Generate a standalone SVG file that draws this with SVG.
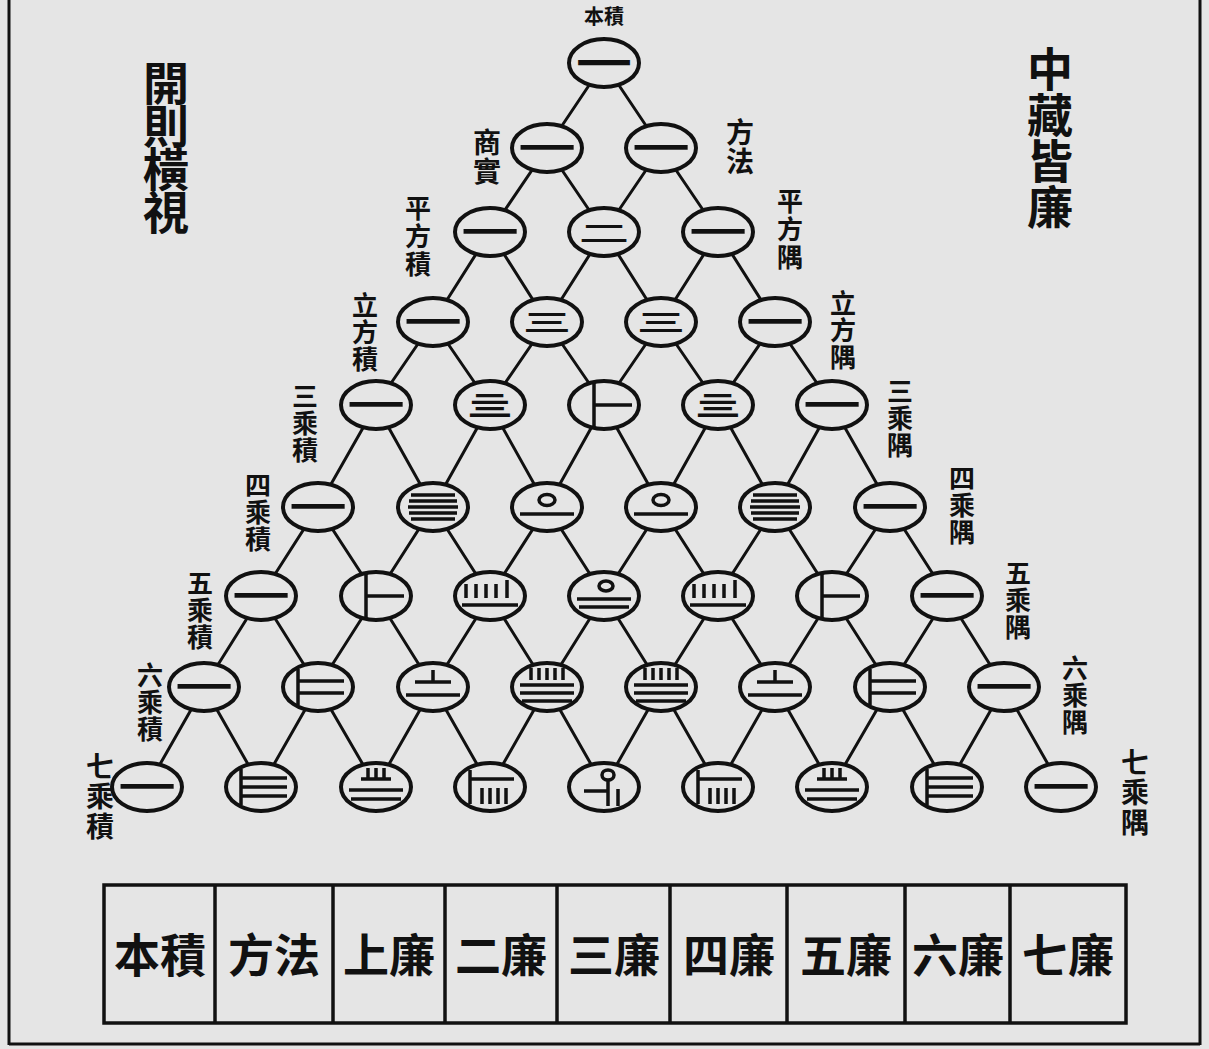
<svg xmlns="http://www.w3.org/2000/svg" width="1209" height="1049" viewBox="0 0 1209 1049">
<style>
.bg{fill:#e5e5e5}
.frame{stroke:#111;stroke-width:3;fill:none}
.conn line{stroke:#111;stroke-width:3;stroke-linecap:round}
.node ellipse.c{fill:#e5e5e5;stroke:#111;stroke-width:4}
.rod{stroke:#111;stroke-width:3.5;fill:none}
.num{font-family:'Noto Sans CJK SC','Noto Sans CJK TC',sans-serif;fill:#111;text-anchor:middle}
.nb{font-weight:700}
.lab{font-family:'Noto Sans CJK TC','Noto Sans CJK SC',sans-serif;font-weight:700;fill:#111;text-anchor:middle}
.vl{font-family:'Noto Sans CJK TC','Noto Sans CJK SC',sans-serif;font-weight:700;fill:#111;writing-mode:vertical-rl;text-anchor:start}
.box rect,.box line{stroke:#111;stroke-width:3.5;fill:none}
</style>
<defs>
<g id="r5" class="rod"><path d="M-22,-12H22M-24,-6H24M-25,0H25M-24,6H24M-22,12H22"/></g>
<g id="r6" class="rod"><path d="M-10,-23V23M-10,0H28"/></g>
<g id="r7" class="rod"><path d="M-20,-18V18M-20,-6H26M-20,6H26"/></g>
<g id="r8" class="rod"><path d="M-20,-18V18M-20,-9H26M-20,0H26M-20,9H26"/></g>
<g id="r10" class="rod"><ellipse cx="0" cy="-7" rx="8" ry="5.5"/><path d="M-27,7H27"/></g>
<g id="r15" class="rod"><path d="M-24,-12V2M-14,-12V2M-4,-12V2M6,-12V2M17,-16V2M-28,9H28"/></g>
<g id="r20" class="rod"><ellipse cx="2" cy="-10" rx="7" ry="5"/><path d="M-27,3H27M-25,11H25"/></g>
<g id="r21" class="rod"><path d="M0,-17V-5M-18,-5H18M-27,8H27"/></g>
<g id="r28" class="rod"><path d="M-8,-19V-8M0,-19V-8M8,-19V-8M-15,-8H15M-27,3H27M-25,12H25"/></g>
<g id="r35" class="rod"><path d="M-16,-19V-7M-8,-19V-7M0,-19V-7M8,-19V-7M16,-19V-7M-27,-2H27M-27,6H27M-25,14H25"/></g>
<g id="r56" class="rod"><path d="M-20,-17V17M-20,-8H24M-8,1V17M0,1V17M8,1V17M16,1V17"/></g>
<g id="r70" class="rod"><ellipse cx="4" cy="-12" rx="6" ry="5"/><path d="M4,-7V19M-20,4H4M14,2V19"/></g>
</defs>
<rect class="bg" x="0" y="0" width="1209" height="1049"/>
<g id="frame" class="frame">
<line x1="9" y1="0" x2="9" y2="1045"/>
<line x1="1200" y1="0" x2="1200" y2="1045"/>
<line x1="9" y1="1044" x2="1200" y2="1044"/>
</g>
<g id="connectors" class="conn">
<line x1="604" y1="63" x2="547" y2="148"/><line x1="604" y1="63" x2="661" y2="148"/>
<line x1="547" y1="148" x2="490" y2="232"/><line x1="547" y1="148" x2="604" y2="232"/>
<line x1="661" y1="148" x2="604" y2="232"/><line x1="661" y1="148" x2="718" y2="232"/>
<line x1="490" y1="232" x2="433" y2="322"/><line x1="490" y1="232" x2="547" y2="322"/>
<line x1="604" y1="232" x2="547" y2="322"/><line x1="604" y1="232" x2="661" y2="322"/>
<line x1="718" y1="232" x2="661" y2="322"/><line x1="718" y1="232" x2="775" y2="322"/>
<line x1="433" y1="322" x2="376" y2="405"/><line x1="433" y1="322" x2="490" y2="405"/>
<line x1="547" y1="322" x2="490" y2="405"/><line x1="547" y1="322" x2="604" y2="405"/>
<line x1="661" y1="322" x2="604" y2="405"/><line x1="661" y1="322" x2="718" y2="405"/>
<line x1="775" y1="322" x2="718" y2="405"/><line x1="775" y1="322" x2="832" y2="405"/>
<line x1="376" y1="405" x2="318" y2="507"/><line x1="376" y1="405" x2="433" y2="507"/>
<line x1="490" y1="405" x2="433" y2="507"/><line x1="490" y1="405" x2="547" y2="507"/>
<line x1="604" y1="405" x2="547" y2="507"/><line x1="604" y1="405" x2="661" y2="507"/>
<line x1="718" y1="405" x2="661" y2="507"/><line x1="718" y1="405" x2="775" y2="507"/>
<line x1="832" y1="405" x2="775" y2="507"/><line x1="832" y1="405" x2="890" y2="507"/>
<line x1="318" y1="507" x2="261" y2="596"/><line x1="318" y1="507" x2="376" y2="596"/>
<line x1="433" y1="507" x2="376" y2="596"/><line x1="433" y1="507" x2="490" y2="596"/>
<line x1="547" y1="507" x2="490" y2="596"/><line x1="547" y1="507" x2="604" y2="596"/>
<line x1="661" y1="507" x2="604" y2="596"/><line x1="661" y1="507" x2="718" y2="596"/>
<line x1="775" y1="507" x2="718" y2="596"/><line x1="775" y1="507" x2="832" y2="596"/>
<line x1="890" y1="507" x2="832" y2="596"/><line x1="890" y1="507" x2="947" y2="596"/>
<line x1="261" y1="596" x2="204" y2="687"/><line x1="261" y1="596" x2="318" y2="687"/>
<line x1="376" y1="596" x2="318" y2="687"/><line x1="376" y1="596" x2="433" y2="687"/>
<line x1="490" y1="596" x2="433" y2="687"/><line x1="490" y1="596" x2="547" y2="687"/>
<line x1="604" y1="596" x2="547" y2="687"/><line x1="604" y1="596" x2="661" y2="687"/>
<line x1="718" y1="596" x2="661" y2="687"/><line x1="718" y1="596" x2="775" y2="687"/>
<line x1="832" y1="596" x2="775" y2="687"/><line x1="832" y1="596" x2="890" y2="687"/>
<line x1="947" y1="596" x2="890" y2="687"/><line x1="947" y1="596" x2="1004" y2="687"/>
<line x1="204" y1="687" x2="147" y2="787"/><line x1="204" y1="687" x2="261" y2="787"/>
<line x1="318" y1="687" x2="261" y2="787"/><line x1="318" y1="687" x2="376" y2="787"/>
<line x1="433" y1="687" x2="376" y2="787"/><line x1="433" y1="687" x2="490" y2="787"/>
<line x1="547" y1="687" x2="490" y2="787"/><line x1="547" y1="687" x2="604" y2="787"/>
<line x1="661" y1="687" x2="604" y2="787"/><line x1="661" y1="687" x2="718" y2="787"/>
<line x1="775" y1="687" x2="718" y2="787"/><line x1="775" y1="687" x2="832" y2="787"/>
<line x1="890" y1="687" x2="832" y2="787"/><line x1="890" y1="687" x2="947" y2="787"/>
<line x1="1004" y1="687" x2="947" y2="787"/><line x1="1004" y1="687" x2="1061" y2="787"/>
</g>
<g id="nodes" class="node">
<g id="n0-0"><ellipse class="c" cx="604" cy="63" rx="35" ry="24"/><text class="num nb" transform="translate(604,63) scale(1.4,1)" x="0" y="15" font-size="40">一</text></g>
<g id="n1-0"><ellipse class="c" cx="547" cy="148" rx="35" ry="24"/><text class="num" x="547" y="170" font-size="58">一</text></g>
<g id="n1-1"><ellipse class="c" cx="661" cy="148" rx="35" ry="24"/><text class="num" x="661" y="170" font-size="58">一</text></g>
<g id="n2-0"><ellipse class="c" cx="490" cy="232" rx="35" ry="24"/><text class="num" x="490" y="254" font-size="58">一</text></g>
<g id="n2-1"><ellipse class="c" cx="604" cy="232" rx="35" ry="24"/><text class="num nb" transform="translate(604,232) scale(1,0.45)" x="0" y="19" font-size="50">二</text></g>
<g id="n2-2"><ellipse class="c" cx="718" cy="232" rx="35" ry="24"/><text class="num" x="718" y="254" font-size="58">一</text></g>
<g id="n3-0"><ellipse class="c" cx="433" cy="322" rx="35" ry="24"/><text class="num" x="433" y="344" font-size="58">一</text></g>
<g id="n3-1"><ellipse class="c" cx="547" cy="322" rx="35" ry="24"/><text class="num nb" transform="translate(547,322) scale(1,0.5)" x="0" y="18" font-size="48">三</text></g>
<g id="n3-2"><ellipse class="c" cx="661" cy="322" rx="35" ry="24"/><text class="num nb" transform="translate(661,322) scale(1,0.5)" x="0" y="18" font-size="48">三</text></g>
<g id="n3-3"><ellipse class="c" cx="775" cy="322" rx="35" ry="24"/><text class="num" x="775" y="344" font-size="58">一</text></g>
<g id="n4-0"><ellipse class="c" cx="376" cy="405" rx="35" ry="24"/><text class="num" x="376" y="427" font-size="58">一</text></g>
<g id="n4-1"><ellipse class="c" cx="490" cy="405" rx="35" ry="24"/><text class="num nb" transform="translate(490,405) scale(1,0.6)" x="0" y="18" font-size="46">亖</text></g>
<g id="n4-2"><ellipse class="c" cx="604" cy="405" rx="35" ry="24"/><use href="#r6" x="604" y="405"/></g>
<g id="n4-3"><ellipse class="c" cx="718" cy="405" rx="35" ry="24"/><text class="num nb" transform="translate(718,405) scale(1,0.6)" x="0" y="18" font-size="46">亖</text></g>
<g id="n4-4"><ellipse class="c" cx="832" cy="405" rx="35" ry="24"/><text class="num" x="832" y="427" font-size="58">一</text></g>
<g id="n5-0"><ellipse class="c" cx="318" cy="507" rx="35" ry="24"/><text class="num" x="318" y="529" font-size="58">一</text></g>
<g id="n5-1"><ellipse class="c" cx="433" cy="507" rx="35" ry="24"/><use href="#r5" x="433" y="507"/></g>
<g id="n5-2"><ellipse class="c" cx="547" cy="507" rx="35" ry="24"/><use href="#r10" x="547" y="507"/></g>
<g id="n5-3"><ellipse class="c" cx="661" cy="507" rx="35" ry="24"/><use href="#r10" x="661" y="507"/></g>
<g id="n5-4"><ellipse class="c" cx="775" cy="507" rx="35" ry="24"/><use href="#r5" x="775" y="507"/></g>
<g id="n5-5"><ellipse class="c" cx="890" cy="507" rx="35" ry="24"/><text class="num" x="890" y="529" font-size="58">一</text></g>
<g id="n6-0"><ellipse class="c" cx="261" cy="596" rx="35" ry="24"/><text class="num" x="261" y="618" font-size="58">一</text></g>
<g id="n6-1"><ellipse class="c" cx="376" cy="596" rx="35" ry="24"/><use href="#r6" x="376" y="596"/></g>
<g id="n6-2"><ellipse class="c" cx="490" cy="596" rx="35" ry="24"/><use href="#r15" x="490" y="596"/></g>
<g id="n6-3"><ellipse class="c" cx="604" cy="596" rx="35" ry="24"/><use href="#r20" x="604" y="596"/></g>
<g id="n6-4"><ellipse class="c" cx="718" cy="596" rx="35" ry="24"/><use href="#r15" x="718" y="596"/></g>
<g id="n6-5"><ellipse class="c" cx="832" cy="596" rx="35" ry="24"/><use href="#r6" x="832" y="596"/></g>
<g id="n6-6"><ellipse class="c" cx="947" cy="596" rx="35" ry="24"/><text class="num" x="947" y="618" font-size="58">一</text></g>
<g id="n7-0"><ellipse class="c" cx="204" cy="687" rx="35" ry="24"/><text class="num" x="204" y="709" font-size="58">一</text></g>
<g id="n7-1"><ellipse class="c" cx="318" cy="687" rx="35" ry="24"/><use href="#r7" x="318" y="687"/></g>
<g id="n7-2"><ellipse class="c" cx="433" cy="687" rx="35" ry="24"/><use href="#r21" x="433" y="687"/></g>
<g id="n7-3"><ellipse class="c" cx="547" cy="687" rx="35" ry="24"/><use href="#r35" x="547" y="687"/></g>
<g id="n7-4"><ellipse class="c" cx="661" cy="687" rx="35" ry="24"/><use href="#r35" x="661" y="687"/></g>
<g id="n7-5"><ellipse class="c" cx="775" cy="687" rx="35" ry="24"/><use href="#r21" x="775" y="687"/></g>
<g id="n7-6"><ellipse class="c" cx="890" cy="687" rx="35" ry="24"/><use href="#r7" x="890" y="687"/></g>
<g id="n7-7"><ellipse class="c" cx="1004" cy="687" rx="35" ry="24"/><text class="num" x="1004" y="709" font-size="58">一</text></g>
<g id="n8-0"><ellipse class="c" cx="147" cy="787" rx="35" ry="24"/><text class="num" x="147" y="809" font-size="58">一</text></g>
<g id="n8-1"><ellipse class="c" cx="261" cy="787" rx="35" ry="24"/><use href="#r8" x="261" y="787"/></g>
<g id="n8-2"><ellipse class="c" cx="376" cy="787" rx="35" ry="24"/><use href="#r28" x="376" y="787"/></g>
<g id="n8-3"><ellipse class="c" cx="490" cy="787" rx="35" ry="24"/><use href="#r56" x="490" y="787"/></g>
<g id="n8-4"><ellipse class="c" cx="604" cy="787" rx="35" ry="24"/><use href="#r70" x="604" y="787"/></g>
<g id="n8-5"><ellipse class="c" cx="718" cy="787" rx="35" ry="24"/><use href="#r56" x="718" y="787"/></g>
<g id="n8-6"><ellipse class="c" cx="832" cy="787" rx="35" ry="24"/><use href="#r28" x="832" y="787"/></g>
<g id="n8-7"><ellipse class="c" cx="947" cy="787" rx="35" ry="24"/><use href="#r8" x="947" y="787"/></g>
<g id="n8-8"><ellipse class="c" cx="1061" cy="787" rx="35" ry="24"/><text class="num" x="1061" y="809" font-size="58">一</text></g>
</g>
<g id="labels">
<text id="top-label" class="lab" x="604" y="24" font-size="20">本積</text>
<text id="note-left" class="vl" x="166" y="60" font-size="46" letter-spacing="-3">開則橫視</text>
<text id="note-right" class="vl" x="1050" y="46" font-size="46">中藏皆廉</text>
<text class="vl" x="487" y="128" font-size="28" letter-spacing="1">商實</text>
<text class="vl" x="740" y="118" font-size="28" letter-spacing="1">方法</text>
<text class="vl" x="418" y="195" font-size="26" letter-spacing="2">平方積</text>
<text class="vl" x="790" y="188" font-size="26" letter-spacing="2">平方隅</text>
<text class="vl" x="365" y="292" font-size="26" letter-spacing="1">立方積</text>
<text class="vl" x="843" y="290" font-size="26" letter-spacing="1">立方隅</text>
<text class="vl" x="305" y="383" font-size="26" letter-spacing="1">三乘積</text>
<text class="vl" x="900" y="378" font-size="26" letter-spacing="1">三乘隅</text>
<text class="vl" x="258" y="472" font-size="26" letter-spacing="1">四乘積</text>
<text class="vl" x="962" y="465" font-size="26" letter-spacing="1">四乘隅</text>
<text class="vl" x="200" y="570" font-size="26" letter-spacing="1">五乘積</text>
<text class="vl" x="1018" y="560" font-size="26" letter-spacing="1">五乘隅</text>
<text class="vl" x="150" y="662" font-size="26" letter-spacing="1">六乘積</text>
<text class="vl" x="1075" y="655" font-size="26" letter-spacing="1">六乘隅</text>
<text class="vl" x="100" y="752" font-size="28" letter-spacing="2">七乘積</text>
<text class="vl" x="1135" y="748" font-size="28" letter-spacing="2">七乘隅</text>
</g>
<g id="table" class="box">
<rect x="104" y="885" width="1022" height="138"/>
<line x1="215" y1="885" x2="215" y2="1023"/>
<line x1="333" y1="885" x2="333" y2="1023"/>
<line x1="445" y1="885" x2="445" y2="1023"/>
<line x1="557" y1="885" x2="557" y2="1023"/>
<line x1="670" y1="885" x2="670" y2="1023"/>
<line x1="787" y1="885" x2="787" y2="1023"/>
<line x1="905" y1="885" x2="905" y2="1023"/>
<line x1="1010" y1="885" x2="1010" y2="1023"/>
</g>
<g id="table-labels">
<text class="lab" x="160" y="972" font-size="46">本積</text>
<text class="lab" x="274" y="972" font-size="46">方法</text>
<text class="lab" x="389" y="972" font-size="46">上廉</text>
<text class="lab" x="501" y="972" font-size="46">二廉</text>
<text class="lab" x="614" y="972" font-size="46">三廉</text>
<text class="lab" x="729" y="972" font-size="46">四廉</text>
<text class="lab" x="846" y="972" font-size="46">五廉</text>
<text class="lab" x="958" y="972" font-size="46">六廉</text>
<text class="lab" x="1068" y="972" font-size="46">七廉</text>
</g>
</svg>
